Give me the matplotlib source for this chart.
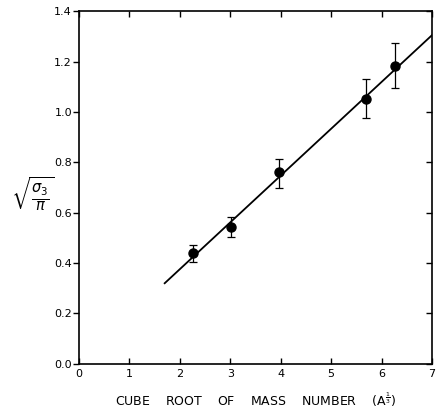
import numpy as np
import matplotlib.pyplot as plt
from matplotlib.lines import TICKLEFT

# measured points with error bars
x_cube = [2.26, 3.02, 3.96, 5.69, 6.27]
y_val = [0.44, 0.543, 0.762, 1.051, 1.182]
y_lo = [0.405, 0.504, 0.70, 0.976, 1.095]
y_hi = [0.472, 0.583, 0.815, 1.13, 1.273]

# straight line through the data
fit_x = [1.7, 7.0]
fit_y = [0.32, 1.305]

x_ticks = [0, 1, 2, 3, 4, 5, 6, 7]
x_ticklabels = ['0', '1', '2', '3', '4', '5', '6', '7']
y_ticks = [0.0, 0.2, 0.4, 0.6, 0.8, 1.0, 1.2, 1.4]
y_ticklabels = ['0.0', '0.2', '0.4', '0.6', '0.8', '1.0', '1.2', '1.4']

plt.rcParams['font.family'] = ['DejaVu Sans']

fig = plt.figure(figsize=(4.36, 4.13), dpi=100)
ax = fig.add_axes([0.181, 0.119, 0.81, 0.854])

yerr = [np.array(y_val) - np.array(y_lo), np.array(y_hi) - np.array(y_val)]
ax.errorbar(x_cube, y_val, yerr=yerr, fmt='o', color='black', ms=6.5,
            elinewidth=0.9, capsize=3, capthick=0.9, zorder=3)
ax.plot(fit_x, fit_y, color='black', lw=1.3)

ax.set_xlim(0, 7)
ax.set_ylim(0, 1.4)
ax.set_xticks(x_ticks)
ax.set_xticklabels(x_ticklabels, fontsize=8)
ax.set_yticks(y_ticks)
ax.set_yticklabels(y_ticklabels, fontsize=8)

for s in ax.spines.values():
    s.set_linewidth(1.2)

ax.tick_params(axis='x', direction='in', length=4, width=1, top=True, pad=4)
ax.tick_params(axis='y', direction='out', length=4, width=1, pad=1, right=True)
# right-hand ticks point inward while the left ones point out
for t in ax.yaxis.get_major_ticks():
    t.tick2line.set_marker(TICKLEFT)
    t.tick2line.set_markersize(4)

ax.set_xlabel(r'CUBE    ROOT    OF    MASS    NUMBER    (A$^{\frac{1}{3}}$)',
              fontsize=9, labelpad=8)
fig.text(0.075, 0.53, r'$\sqrt{\frac{\sigma_3}{\pi}}$', fontsize=15,
         ha='center', va='center')

fig.savefig('out.png', dpi=100)
